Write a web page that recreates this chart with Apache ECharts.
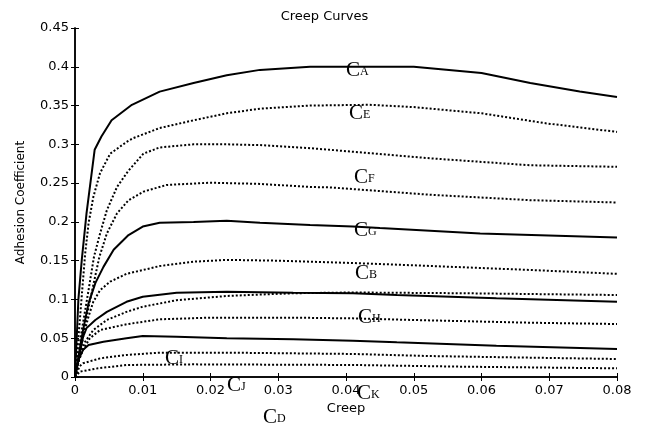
<!DOCTYPE html>
<html>
<head>
<meta charset="utf-8">
<script src="https://cdn.jsdelivr.net/npm/echarts@6/dist/echarts.min.js"></script>
<style>
  html, body { margin: 0; padding: 0; background: #fff; }
  #chart { width: 649px; height: 427px; }
</style>
</head>
<body>
<div id="chart"></div>
<script>
// creep values, one array per curve: [creep, adhesion]
var curveA = [[0,0],[0.0005,0.1],[0.001,0.151],[0.0017,0.211],[0.0029,0.293],[0.0039,0.31],[0.0054,0.331],[0.0084,0.351],[0.0125,0.368],[0.0175,0.379],[0.0224,0.389],[0.0273,0.396],[0.0347,0.4],[0.05,0.4],[0.06,0.392],[0.0672,0.379],[0.0745,0.368],[0.08,0.361]];
var curveE = [[0,0],[0.0005,0.05],[0.001,0.105],[0.0015,0.159],[0.002,0.198],[0.0027,0.232],[0.0037,0.263],[0.0052,0.288],[0.0076,0.303],[0.0086,0.308],[0.0125,0.321],[0.0175,0.331],[0.0224,0.34],[0.0273,0.346],[0.0347,0.35],[0.0435,0.351],[0.05,0.348],[0.06,0.34],[0.0696,0.327],[0.08,0.316]];
var curve3 = [[0,0],[0.001,0.06],[0.002,0.112],[0.0028,0.155],[0.0037,0.185],[0.0047,0.215],[0.0062,0.245],[0.0078,0.265],[0.0101,0.288],[0.0125,0.296],[0.0175,0.3],[0.0224,0.3],[0.0273,0.299],[0.0347,0.295],[0.0376,0.293],[0.0524,0.282],[0.0672,0.273],[0.08,0.271]];
var curveF = [[0,0],[0.001,0.045],[0.002,0.09],[0.0036,0.155],[0.0047,0.185],[0.0062,0.211],[0.0079,0.228],[0.0101,0.239],[0.0135,0.2476],[0.0199,0.2505],[0.0273,0.249],[0.0347,0.245],[0.0376,0.2445],[0.0524,0.235],[0.0672,0.228],[0.08,0.225]];
var curveG = [[0,0],[0.0005,0.026],[0.0012,0.061],[0.002,0.095],[0.003,0.121],[0.0042,0.142],[0.0057,0.164],[0.0079,0.183],[0.01,0.194],[0.0125,0.199],[0.0175,0.2],[0.0224,0.2015],[0.0273,0.199],[0.0347,0.196],[0.041,0.194],[0.045,0.192],[0.0598,0.185],[0.08,0.18]];
var curveB = [[0,0],[0.0006,0.022],[0.0012,0.052],[0.002,0.078],[0.0027,0.097],[0.0037,0.112],[0.0052,0.123],[0.0076,0.133],[0.0125,0.143],[0.0175,0.1487],[0.0224,0.151],[0.0298,0.15],[0.041,0.147],[0.05,0.144],[0.0672,0.138],[0.08,0.133]];
var curve11 = [[0,0],[0.0005,0.022],[0.0012,0.052],[0.0017,0.063],[0.003,0.0735],[0.0047,0.084],[0.0076,0.097],[0.01,0.1035],[0.015,0.1087],[0.0224,0.11],[0.0322,0.1087],[0.041,0.108],[0.0475,0.1057],[0.0622,0.1015],[0.08,0.097]];
var curve105 = [[0,0],[0.0007,0.026],[0.0015,0.0455],[0.0027,0.0606],[0.0047,0.0735],[0.0076,0.084],[0.01,0.0906],[0.015,0.099],[0.0224,0.1045],[0.0322,0.108],[0.041,0.109],[0.0573,0.108],[0.08,0.1057]];
var curveH = [[0,0],[0.0005,0.02],[0.0012,0.035],[0.0022,0.05],[0.0037,0.0606],[0.0076,0.068],[0.0125,0.0744],[0.0199,0.0765],[0.0322,0.0765],[0.041,0.0756],[0.05,0.0735],[0.0672,0.07],[0.08,0.0683]];
var curve05 = [[0,0],[0.0005,0.022],[0.0012,0.035],[0.002,0.0413],[0.0042,0.0455],[0.0076,0.05],[0.01,0.0529],[0.015,0.052],[0.0224,0.0499],[0.0322,0.0486],[0.041,0.0468],[0.0475,0.0447],[0.0622,0.0404],[0.08,0.0361]];
var curveI = [[0,0],[0.0007,0.014],[0.0012,0.0177],[0.0037,0.024],[0.0076,0.0284],[0.0125,0.0314],[0.0224,0.0314],[0.041,0.0297],[0.0524,0.027],[0.08,0.0232]];
var curve015 = [[0,0],[0.0007,0.0069],[0.0034,0.0112],[0.0076,0.0155],[0.0175,0.0163],[0.041,0.0155],[0.0573,0.0133],[0.08,0.0112]];

var solidCurves = [curveA, curveG, curve11, curve05];
var dottedCurves = [curveE, curve3, curveF, curveB, curve105, curveH, curveI, curve015];

// curve names: C + subscript
var labelNames = ['A', 'E', 'F', 'G', 'B', 'H', 'I', 'J', 'K', 'D'];

var chart = echarts.init(document.getElementById('chart'));

var labelPos = {
  A: [346, 70], E: [349, 113], F: [354, 177], G: [354, 230], B: [355, 273],
  H: [358, 317], I: [165, 358], J: [227, 385], K: [357, 393], D: [263, 417]
};

var series = [];
solidCurves.forEach(function (c) {
  series.push({
    type: 'line', data: c, symbol: 'none',
    lineStyle: { color: '#000', width: 2, type: 'solid' }, silent: true
  });
});
dottedCurves.forEach(function (c) {
  series.push({
    type: 'line', data: c, symbol: 'none',
    lineStyle: { color: '#000', width: 2, type: [2, 2] }, silent: true
  });
});

var axisFont = { color: '#000', fontFamily: 'DejaVu Sans', fontSize: 13 };
var frameLine = { show: true, lineStyle: { color: '#000', width: 1.5 } };

var option = {
  backgroundColor: '#fff',
  animation: false,
  title: {
    text: 'Creep Curves', left: 'center', top: 5,
    textStyle: { color: '#000', fontFamily: 'DejaVu Sans', fontSize: 13, fontWeight: 'normal' }
  },
  grid: { left: 75, right: 32, top: 28, bottom: 50 },
  xAxis: [{
    type: 'value', min: 0, max: 0.08, interval: 0.01, position: 'bottom',
    name: 'Creep', nameLocation: 'middle', nameGap: 24,
    nameTextStyle: axisFont,
    axisLine: frameLine, axisTick: { inside: true, length: 4, lineStyle: { color: '#000' } },
    axisLabel: Object.assign({ margin: 7 }, axisFont), splitLine: { show: false }
  }, {
    type: 'value', min: 0, max: 0.08, interval: 0.01, position: 'top',
    axisLine: frameLine, axisTick: { inside: true, length: 4, lineStyle: { color: '#000' } },
    axisLabel: { show: false }, splitLine: { show: false }
  }],
  yAxis: [{
    type: 'value', min: 0, max: 0.45, interval: 0.05, position: 'left',
    name: 'Adhesion Coefficient', nameLocation: 'middle', nameGap: 48, nameRotate: 90,
    nameTextStyle: { color: '#000', fontFamily: 'DejaVu Sans', fontSize: 12 },
    axisLine: frameLine, axisTick: { inside: true, length: 4, lineStyle: { color: '#000' } },
    axisLabel: Object.assign({ margin: 6 }, axisFont), splitLine: { show: false }
  }, {
    type: 'value', min: 0, max: 0.45, interval: 0.05, position: 'right',
    axisLine: frameLine, axisTick: { inside: true, length: 4, lineStyle: { color: '#000' } },
    axisLabel: { show: false }, splitLine: { show: false }
  }],
  series: series,
  graphic: labelNames.map(function (n) {
    return {
      type: 'text', x: labelPos[n][0], y: labelPos[n][1], z: 100, silent: true,
      style: {
        text: '{c|C}{s|' + n + '}',
        verticalAlign: 'middle',
        rich: {
          c: { fontFamily: 'Liberation Serif', fontSize: 21, fill: '#000' },
          s: { fontFamily: 'Liberation Serif', fontSize: 12, fill: '#000', padding: [0, 0, -3, 0] }
        }
      }
    };
  })
};

chart.setOption(option);
</script>
</body>
</html>
